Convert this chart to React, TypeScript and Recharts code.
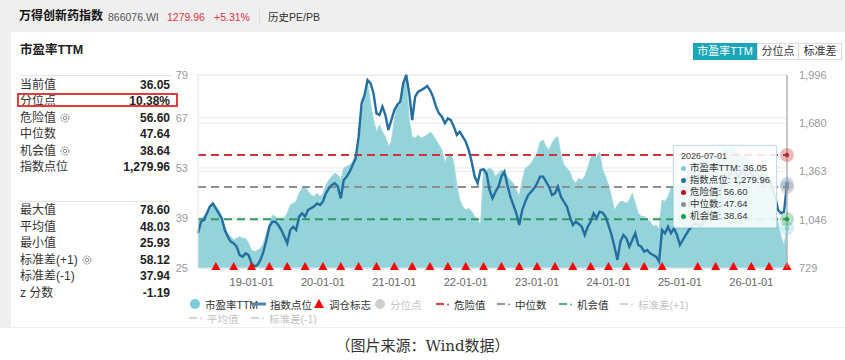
import React from 'react';
import {
  ComposedChart,
  Area,
  Line,
  XAxis,
  YAxis,
  CartesianGrid,
  Tooltip,
} from 'recharts';

// ---------- data ----------
// Semi-monthly observations (1st and 16th of each month), 2018-04-01 .. 2026-07-01
const FIRST_YEAR = 2018;
const FIRST_MONTH = 4;
const POINT_COUNT = 199;

// 市盈率TTM
const peValues: number[] = [
  38.6, 38.9, 39.4, 40.8, 42.6, 43.1, 42.2, 41.2, 39.4, 36.6,
  34.7, 33.8, 32.8, 33.3, 33.8, 33.3, 33.3, 31.9, 30.0, 29.6,
  30.0, 30.5, 31.9, 34.7, 37.5, 39.8, 39.4, 38.0, 38.4, 38.9,
  40.3, 42.6, 43.1, 43.6, 45.9, 47.3, 47.8, 46.4, 45.4, 45.0,
  45.9, 45.0, 45.7, 48.2, 49.6, 50.6, 51.5, 51.0, 49.6, 52.9,
  53.4, 53.8, 54.8, 56.6, 61.7, 68.3, 73.5, 77.0, 71.1, 66.4,
  63.1, 65.0, 63.1, 61.7, 59.0, 60.3, 66.4, 71.1, 70.1, 75.0,
  78.6, 66.4, 61.7, 61.3, 62.2, 61.3, 61.7, 62.2, 63.1, 62.2,
  60.8, 59.4, 58.0, 54.3, 56.6, 57.1, 54.3, 48.2, 44.0, 42.2,
  41.2, 41.7, 40.8, 39.4, 38.4, 37.0, 52.9, 52.4, 52.9, 52.4,
  50.6, 51.5, 52.4, 52.0, 50.6, 49.6, 48.7, 46.8, 45.0, 49.6,
  52.9, 53.4, 54.3, 55.7, 57.1, 60.3, 60.8, 59.0, 58.0, 59.9,
  61.3, 61.7, 56.6, 53.8, 52.9, 52.0, 49.6, 48.7, 50.1, 49.6,
  50.6, 52.9, 55.7, 57.1, 55.7, 57.5, 52.4, 50.6, 48.2, 45.0,
  41.2, 42.6, 43.6, 43.6, 43.1, 44.0, 45.9, 43.1, 40.3, 39.4,
  39.4, 38.4, 38.0, 36.6, 37.0, 35.8, 44.0, 43.6, 45.0, 47.3,
  48.2, 49.2, 48.2, 49.6, 51.0, 52.4, 53.4, 52.9, 54.3, 55.2,
  54.8, 56.1, 57.1, 56.6, 58.0, 57.1, 57.5, 58.5, 58.0, 59.0,
  59.4, 58.0, 57.1, 56.1, 56.6, 55.7, 54.8, 54.3, 53.4, 53.8,
  52.4, 51.5, 50.6, 48.7, 41.2, 37.5, 33.8, 31.4, 36.05,
];

// 指数点位
const indexValues: number[] = [
  957, 1033, 1044, 1088, 1132, 1153, 1121, 1088, 1055, 978,
  935, 902, 891, 869, 814, 803, 825, 814, 760, 738,
  749, 782, 836, 913, 1000, 1033, 1033, 1011, 978, 935,
  891, 978, 1000, 978, 1066, 1088, 1066, 1110, 1121, 1132,
  1153, 1143, 1164, 1219, 1252, 1274, 1285, 1263, 1186, 1307,
  1329, 1361, 1405, 1449, 1591, 1810, 1865, 1963, 1941, 1876,
  1744, 1733, 1788, 1733, 1635, 1700, 1766, 1799, 1821, 1941,
  1996, 1876, 1700, 1854, 1886, 1897, 1908, 1924, 1897, 1854,
  1788, 1744, 1722, 1679, 1711, 1700, 1657, 1602, 1624, 1591,
  1558, 1504, 1427, 1329, 1285, 1372, 1377, 1350, 1241, 1186,
  1230, 1263, 1329, 1361, 1274, 1197, 1143, 1088, 1011, 1110,
  1164, 1208, 1230, 1252, 1285, 1329, 1329, 1296, 1263, 1208,
  1219, 1263, 1197, 1164, 1132, 1066, 1011, 1033, 1018, 1000,
  946, 1000, 1033, 1088, 1055, 1099, 1092, 1066, 1011, 946,
  869, 782, 902, 946, 924, 869, 913, 957, 880, 869,
  836, 847, 825, 814, 803, 771, 978, 957, 1000, 957,
  989, 946, 880, 913, 946, 978, 1000, 1022, 1011, 1000,
  1033, 1066, 1110, 1153, 1175, 1219, 1263, 1307, 1329, 1350,
  1372, 1350, 1329, 1372, 1394, 1372, 1350, 1329, 1307, 1329,
  1285, 1307, 1307, 1263, 1197, 1110, 1088, 1099, 1279.96,
];

// 调仓标志 (quarterly rebalance dates)
const rebalanceDates: string[] = [
  '2018-07-01', '2018-10-01',
  '2019-01-01', '2019-04-01', '2019-07-01', '2019-10-01',
  '2020-01-01', '2020-04-01', '2020-07-01', '2020-10-01',
  '2021-01-01', '2021-04-01', '2021-07-01', '2021-10-01',
  '2022-01-01', '2022-04-01', '2022-07-01', '2022-10-01',
  '2023-01-01', '2023-04-01', '2023-07-01', '2023-10-01',
  '2024-01-01', '2024-04-01', '2024-07-01', '2024-10-01',
  '2025-04-01', '2025-07-01', '2025-10-01',
  '2026-01-01', '2026-04-01', '2026-07-01',
];

const DANGER = 56.6;
const MEDIAN = 47.64;
const CHANCE = 38.64;

const xTicks: string[] = [
  '2019-01-01', '2020-01-01', '2021-01-01', '2022-01-01',
  '2023-01-01', '2024-01-01', '2025-01-01', '2026-01-01',
];
const peTicks: number[] = [25, 39, 53, 67, 79];
const indexTicks: number[] = [729, 1046, 1363, 1680, 1996];

const summaryTop: [string, string, boolean][] = [
  ['当前值', '36.05', false],
  ['分位点', '10.38%', false],
  ['危险值', '56.60', true],
  ['中位数', '47.64', false],
  ['机会值', '38.64', true],
  ['指数点位', '1,279.96', false],
];
const summaryBottom: [string, string, boolean][] = [
  ['最大值', '78.60', false],
  ['平均值', '48.03', false],
  ['最小值', '25.93', false],
  ['标准差(+1)', '58.12', true],
  ['标准差(-1)', '37.94', false],
  ['z 分数', '-1.19', false],
];

// ---------- styling ----------
const FONT = "'Liberation Sans', Arial, 'Noto Sans CJK SC', sans-serif";
const PE_FILL = '#93d3d9';
const PE_STROKE = '#a3d9de';
const PE_DOT = '#7ccbd3';
const INDEX_COLOR = '#246f9f';
const DANGER_COLOR = '#d3343a';
const MEDIAN_COLOR = '#8e8e8e';
const CHANCE_COLOR = '#2f9c5f';
const TEAL_BTN = '#1ba5b8';

function buildDates(): string[] {
  const out: string[] = [];
  for (let k = 0; k < POINT_COUNT; k++) {
    const m = FIRST_MONTH - 1 + Math.floor(k / 2);
    const y = FIRST_YEAR + Math.floor(m / 12);
    const mm = String((m % 12) + 1).padStart(2, '0');
    out.push(`${y}-${mm}-${k % 2 === 0 ? '01' : '16'}`);
  }
  return out;
}

const dates = buildDates();
const rows = dates.map((d, i) => ({
  date: d,
  pe: peValues[i],
  index: indexValues[i],
  danger: DANGER,
  median: MEDIAN,
  chance: CHANCE,
  mark: rebalanceDates.includes(d) ? 25 : null,
}));

const fmtNum = (v: number, digits = 2) =>
  v.toLocaleString('en-US', { minimumFractionDigits: digits, maximumFractionDigits: digits });

function haloDot(color: string) {
  return (props: any) => {
    const { cx, cy } = props;
    if (cx == null || cy == null) return <g />;
    return (
      <g>
        <circle cx={cx} cy={cy} r={7} fill={color} fillOpacity={0.32} />
        <circle cx={cx} cy={cy} r={2.2} fill={color} />
      </g>
    );
  };
}

function TriangleDot(props: any) {
  const { cx, cy, value, index } = props;
  if (cx == null || cy == null || value == null) return <g key={`t${index}`} />;
  return (
    <path
      key={`t${index}`}
      d={`M${cx},${cy - 6} L${cx + 4.5},${cy + 2} L${cx - 4.5},${cy + 2} Z`}
      fill="#ff0000"
    />
  );
}

function TipBox(props: any) {
  const { active, payload, label } = props;
  if (!active || !payload || !payload.length) return null;
  const get = (k: string) => {
    const p = payload.find((e: any) => e.dataKey === k);
    return p ? Number(p.value) : 0;
  };
  const items = [
    { name: '市盈率TTM', color: PE_DOT, v: fmtNum(get('pe')) },
    { name: '指数点位', color: INDEX_COLOR, v: fmtNum(get('index')) },
    { name: '危险值', color: '#b5121b', v: fmtNum(get('danger')) },
    { name: '中位数', color: MEDIAN_COLOR, v: fmtNum(get('median')) },
    { name: '机会值', color: '#1f9a4f', v: fmtNum(get('chance')) },
  ];
  return (
    <div
      style={{
        width: 104,
        boxSizing: 'border-box',
        padding: '5px 6px 5px 7px',
        background: 'rgba(255,255,255,0.86)',
        border: '1px solid #bfdfe6',
        borderRadius: 2,
        boxShadow: '0 0 3px rgba(0,0,0,0.08)',
        fontFamily: FONT,
        color: '#333',
        whiteSpace: 'nowrap',
      }}
    >
      <div style={{ fontSize: 9, lineHeight: '11px', color: '#444' }}>{label}</div>
      {items.map((it) => (
        <div key={it.name} style={{ fontSize: 9.5, lineHeight: '12px', display: 'flex', alignItems: 'center' }}>
          <span
            style={{
              display: 'inline-block',
              width: 5,
              height: 5,
              borderRadius: 3,
              background: it.color,
              marginRight: 4,
            }}
          />
          <span>
            {it.name}: {it.v}
          </span>
        </div>
      ))}
    </div>
  );
}

function Gear() {
  return (
    <svg width={10} height={10} style={{ marginLeft: 4, verticalAlign: '-1px' }}>
      <circle cx={5} cy={5} r={4} fill="none" stroke="#888" strokeWidth={1} strokeDasharray="2 0.8" />
      <circle cx={5} cy={5} r={1.8} fill="none" stroke="#888" strokeWidth={1} />
    </svg>
  );
}

function SummaryRow({ y, label, value, gear }: { y: number; label: string; value: string; gear: boolean }) {
  return (
    <div
      style={{
        position: 'absolute',
        left: 20,
        top: y - 8,
        width: 150,
        height: 16,
        lineHeight: '16px',
        fontSize: 12,
        color: '#333',
        display: 'flex',
        justifyContent: 'space-between',
      }}
    >
      <span>
        {label}
        {gear ? <Gear /> : null}
      </span>
      <span style={{ fontWeight: 'bold', color: '#222' }}>{value}</span>
    </div>
  );
}

function LegendIcon({ kind, color }: { kind: string; color: string }) {
  if (kind === 'circle')
    return (
      <svg width={12} height={12}>
        <circle cx={6} cy={6} r={5} fill={color} />
      </svg>
    );
  if (kind === 'line')
    return (
      <svg width={14} height={12}>
        <line x1={0} y1={6} x2={14} y2={6} stroke={color} strokeWidth={3} />
      </svg>
    );
  if (kind === 'triangle')
    return (
      <svg width={12} height={12}>
        <path d="M6,1 L11,10 L1,10 Z" fill={color} />
      </svg>
    );
  return (
    <svg width={14} height={12}>
      <line x1={0} y1={6} x2={8} y2={6} stroke={color} strokeWidth={2.2} />
      <circle cx={12} cy={6.5} r={1} fill={color} />
    </svg>
  );
}

const legendItems: { x: number; y: number; kind: string; color: string; text: string; faded: boolean }[] = [
  { x: 189, y: 304, kind: 'circle', color: '#79cdd4', text: '市盈率TTM', faded: false },
  { x: 252, y: 304, kind: 'line', color: '#4f86b0', text: '指数点位', faded: false },
  { x: 313, y: 304, kind: 'triangle', color: '#ff0000', text: '调仓标志', faded: false },
  { x: 374, y: 304, kind: 'circle', color: '#cfcfcf', text: '分位点', faded: true },
  { x: 436, y: 304, kind: 'dash', color: '#d0464c', text: '危险值', faded: false },
  { x: 497, y: 304, kind: 'dash', color: '#999999', text: '中位数', faded: false },
  { x: 559, y: 304, kind: 'dash', color: '#5bb083', text: '机会值', faded: false },
  { x: 620, y: 304, kind: 'dash', color: '#d6d6d6', text: '标准差(+1)', faded: true },
  { x: 189, y: 318, kind: 'dash', color: '#d6d6d6', text: '平均值', faded: true },
  { x: 251, y: 318, kind: 'dash', color: '#d6d6d6', text: '标准差(-1)', faded: true },
];

export default function App() {
  return (
    <div
      style={{
        position: 'absolute',
        left: 0,
        top: 0,
        width: 845,
        height: 360,
        background: '#ffffff',
        fontFamily: FONT,
        overflow: 'hidden',
      }}
    >
      {/* page frame */}
      <div style={{ position: 'absolute', left: 0, top: 0, width: 845, height: 328, background: '#efefef' }} />
      <div style={{ position: 'absolute', left: 11, top: 32, width: 834, height: 295, background: '#ffffff' }} />

      {/* header */}
      <div style={{ position: 'absolute', left: 19, top: 7, lineHeight: '18px', fontSize: 12, fontWeight: 'bold', color: '#111', whiteSpace: 'nowrap' }}>
        万得创新药指数
      </div>
      <div style={{ position: 'absolute', left: 108, top: 8, lineHeight: '18px', fontSize: 10.5, color: '#555' }}>
        866076.WI
      </div>
      <div style={{ position: 'absolute', left: 167, top: 8, lineHeight: '18px', fontSize: 10.5, color: '#d9363e' }}>
        1279.96
      </div>
      <div style={{ position: 'absolute', left: 214, top: 8, lineHeight: '18px', fontSize: 10.5, color: '#d9363e' }}>
        +5.31%
      </div>
      <div style={{ position: 'absolute', left: 259, top: 9, width: 1, height: 15, background: '#dcdcdc' }} />
      <div style={{ position: 'absolute', left: 268, top: 8, lineHeight: '18px', fontSize: 10.5, color: '#333' }}>
        历史PE/PB
      </div>

      {/* toggle buttons */}
      <div style={{ position: 'absolute', left: 693, top: 43, height: 17, display: 'flex', fontSize: 11 }}>
        <div style={{ width: 64, background: TEAL_BTN, color: '#fff', textAlign: 'center', lineHeight: '17px' }}>
          市盈率TTM
        </div>
        <div
          style={{
            width: 42,
            boxSizing: 'border-box',
            border: '1px solid #dcdcdc',
            color: '#333',
            textAlign: 'center',
            lineHeight: '15px',
          }}
        >
          分位点
        </div>
        <div
          style={{
            width: 43,
            boxSizing: 'border-box',
            border: '1px solid #dcdcdc',
            borderLeft: 'none',
            color: '#333',
            textAlign: 'center',
            lineHeight: '15px',
          }}
        >
          标准差
        </div>
      </div>

      {/* summary panel */}
      <div style={{ position: 'absolute', left: 20, top: 42, fontSize: 12.5, fontWeight: 'bold', color: '#222', lineHeight: '16px' }}>
        市盈率TTM
      </div>
      <div style={{ position: 'absolute', left: 20, top: 75, width: 151, height: 1, background: '#e6e6e6' }} />
      {summaryTop.map((r, i) => (
        <SummaryRow key={r[0]} y={85 + i * 16.4} label={r[0]} value={r[1]} gear={r[2]} />
      ))}
      <div
        style={{
          position: 'absolute',
          left: 17,
          top: 93,
          width: 161,
          height: 14,
          boxSizing: 'border-box',
          border: '2px solid #e23c3c',
        }}
      />
      <div style={{ position: 'absolute', left: 20, top: 201, width: 151, height: 1, background: '#e6e6e6' }} />
      {summaryBottom.map((r, i) => (
        <SummaryRow key={r[0]} y={210 + i * 16.5} label={r[0]} value={r[1]} gear={r[2]} />
      ))}

      {/* chart */}
      <div style={{ position: 'absolute', left: 150, top: 60 }}>
        <ComposedChart width={695} height={228} data={rows} margin={{ top: 15, right: 0, bottom: 0, left: 0 }}>
          <CartesianGrid yAxisId="pe" vertical={false} stroke="#e9e9e9" />
          <CartesianGrid yAxisId="idx" vertical={false} stroke="#e9e9e9" />
          <XAxis
            dataKey="date"
            ticks={xTicks}
            interval={0}
            tickFormatter={(d: string) => d.slice(2)}
            tickLine={false}
            axisLine={{ stroke: '#dde4e8' }}
            tick={{ fontSize: 11, fill: '#666' }}
            tickMargin={4}
            height={20}
          />
          <YAxis
            yAxisId="pe"
            domain={[25, 79]}
            ticks={peTicks}
            interval={0}
            width={48}
            tickSize={0}
            tickMargin={10}
            axisLine={{ stroke: '#dce6ec' }}
            tick={{ fontSize: 11, fill: '#999' }}
          />
          <YAxis
            yAxisId="idx"
            orientation="right"
            domain={[729, 1996]}
            ticks={indexTicks}
            interval={0}
            width={58}
            tickSize={0}
            tickMargin={12}
            axisLine={{ stroke: '#dce6ec' }}
            tick={{ fontSize: 11, fill: '#999' }}
            tickFormatter={(v: number) => v.toLocaleString('en-US')}
          />
          <Area
            yAxisId="pe"
            type="linear"
            dataKey="pe"
            stroke={PE_STROKE}
            strokeWidth={1}
            fill={PE_FILL}
            fillOpacity={1}
            isAnimationActive={false}
            activeDot={haloDot(PE_DOT)}
          />
          <Line
            yAxisId="pe"
            type="linear"
            dataKey="danger"
            stroke={DANGER_COLOR}
            strokeWidth={2}
            strokeDasharray="8 5"
            dot={false}
            isAnimationActive={false}
            activeDot={haloDot('#c0272d')}
          />
          <Line
            yAxisId="pe"
            type="linear"
            dataKey="median"
            stroke={MEDIAN_COLOR}
            strokeWidth={2}
            strokeDasharray="8 5"
            dot={false}
            isAnimationActive={false}
            activeDot={haloDot(MEDIAN_COLOR)}
          />
          <Line
            yAxisId="pe"
            type="linear"
            dataKey="chance"
            stroke={CHANCE_COLOR}
            strokeWidth={2}
            strokeDasharray="8 5"
            dot={false}
            isAnimationActive={false}
            activeDot={haloDot('#1f9a4f')}
          />
          <Line
            yAxisId="idx"
            type="linear"
            dataKey="index"
            stroke={INDEX_COLOR}
            strokeWidth={2.4}
            dot={false}
            isAnimationActive={false}
            activeDot={haloDot('#6f94b3')}
          />
          <Line
            yAxisId="pe"
            dataKey="mark"
            stroke="none"
            dot={TriangleDot}
            activeDot={false}
            isAnimationActive={false}
          />
          <Tooltip
            defaultIndex={POINT_COUNT - 1}
            position={{ x: 523, y: 85 }}
            cursor={{ stroke: '#9c9c9c', strokeWidth: 1 }}
            content={<TipBox />}
            isAnimationActive={false}
          />
        </ComposedChart>
      </div>

      {/* legend */}
      {legendItems.map((it) => (
        <div
          key={it.text}
          style={{
            position: 'absolute',
            left: it.x,
            top: it.y - 7,
            height: 14,
            display: 'flex',
            alignItems: 'center',
            fontSize: 10.5,
            color: it.faded ? '#c4c4c4' : '#333',
            whiteSpace: 'nowrap',
          }}
        >
          <LegendIcon kind={it.kind} color={it.color} />
          <span style={{ marginLeft: 4 }}>{it.text}</span>
        </div>
      ))}

      {/* source note */}
      <div
        style={{
          position: 'absolute',
          left: 0,
          top: 337,
          width: 845,
          textAlign: 'center',
          fontSize: 15,
          color: '#333',
          fontFamily: "'DejaVu Serif', 'Noto Sans CJK SC', serif",
          lineHeight: '18px',
        }}
      >
        （图片来源：Wind数据）
      </div>
    </div>
  );
}
